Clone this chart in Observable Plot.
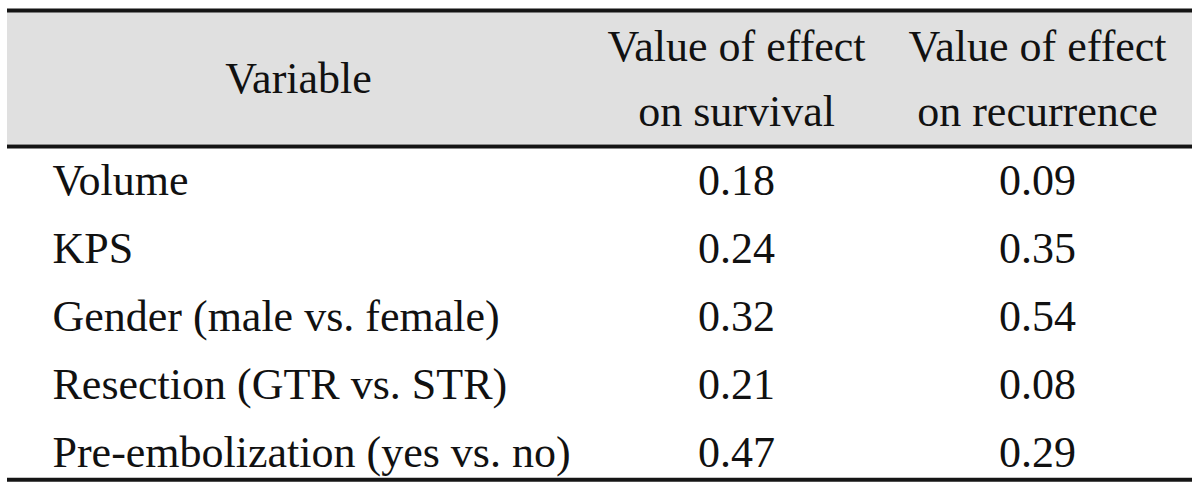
<!DOCTYPE html>
<html>
<head>
<meta charset="utf-8">
<script src="https://cdn.jsdelivr.net/npm/d3@7"></script>
<script src="https://cdn.jsdelivr.net/npm/@observablehq/plot@0.6"></script>
<style>
  html, body { margin: 0; padding: 0; background: #ffffff; }
  #chart svg { display: block; }
</style>
</head>
<body>
<div id="chart"></div>
<script>
// ---- Data ----
const headers = ["Variable", "Value of effect\non survival", "Value of effect\non recurrence"];
const variables = [
  "Volume",
  "KPS",
  "Gender (male vs. female)",
  "Resection (GTR vs. STR)",
  "Pre-embolization (yes vs. no)"
];
const survival = [0.18, 0.24, 0.32, 0.21, 0.47];
const recurrence = [0.09, 0.35, 0.54, 0.08, 0.29];

// ---- Layout (table structure, in row units / pixel columns) ----
const W = 1200, H = 488;
const FONT = 44;
const fmt = d3.format(".2f");
const tableLeft = 7, tableRight = 1192;
const colX = {variable: 52, variableHeader: 298, survival: 736, recurrence: 1037};
const headerRow = -1.62;       // centre of header block, in row units
const topRule = -2.53, headerRule = -0.53, bottomRule = 4.37;
const headerBand = [-2.5, -0.56];

const rows = variables.map((v, i) => ({row: i, variable: v, survival: survival[i], recurrence: recurrence[i]}));
const headerCells = headers.map((h, i) => ({
  label: h,
  x: [colX.variableHeader, colX.survival, colX.recurrence][i]
}));

const chart = Plot.plot({
  width: W,
  height: H,
  margin: 0,
  x: {type: "linear", domain: [0, W], range: [0, W], axis: null},
  y: {type: "linear", domain: [4.515, -2.662], range: [H + 1, 1], axis: null},
  style: {fontFamily: "'Liberation Serif', 'DejaVu Serif', serif", fontSize: FONT + "px", color: "#111", background: "#fff"},
  marks: [
    // header shading
    Plot.rect([headerBand], {x1: tableLeft, x2: tableRight, y1: d => d[0], y2: d => d[1], fill: "#e0e0e0"}),
    // rules
    Plot.ruleY([topRule, headerRule, bottomRule], {x1: tableLeft, x2: tableRight, stroke: "#151515", strokeWidth: 4}),
    // header text
    Plot.text(headerCells, {
      x: "x", y: () => headerRow, text: "label",
      fontSize: FONT, lineHeight: 65 / FONT, fill: "#111", textAnchor: "middle"
    }),
    // variable names
    Plot.text(rows, {x: () => colX.variable, y: "row", text: "variable", textAnchor: "start", fontSize: FONT, fill: "#111", dy: -2}),
    // values
    Plot.text(rows, {x: () => colX.survival, y: "row", text: d => fmt(d.survival), textAnchor: "middle", fontSize: FONT, fill: "#111", dy: -2}),
    Plot.text(rows, {x: () => colX.recurrence, y: "row", text: d => fmt(d.recurrence), textAnchor: "middle", fontSize: FONT, fill: "#111", dy: -2})
  ]
});

document.getElementById("chart").appendChild(chart);
</script>
</body>
</html>
